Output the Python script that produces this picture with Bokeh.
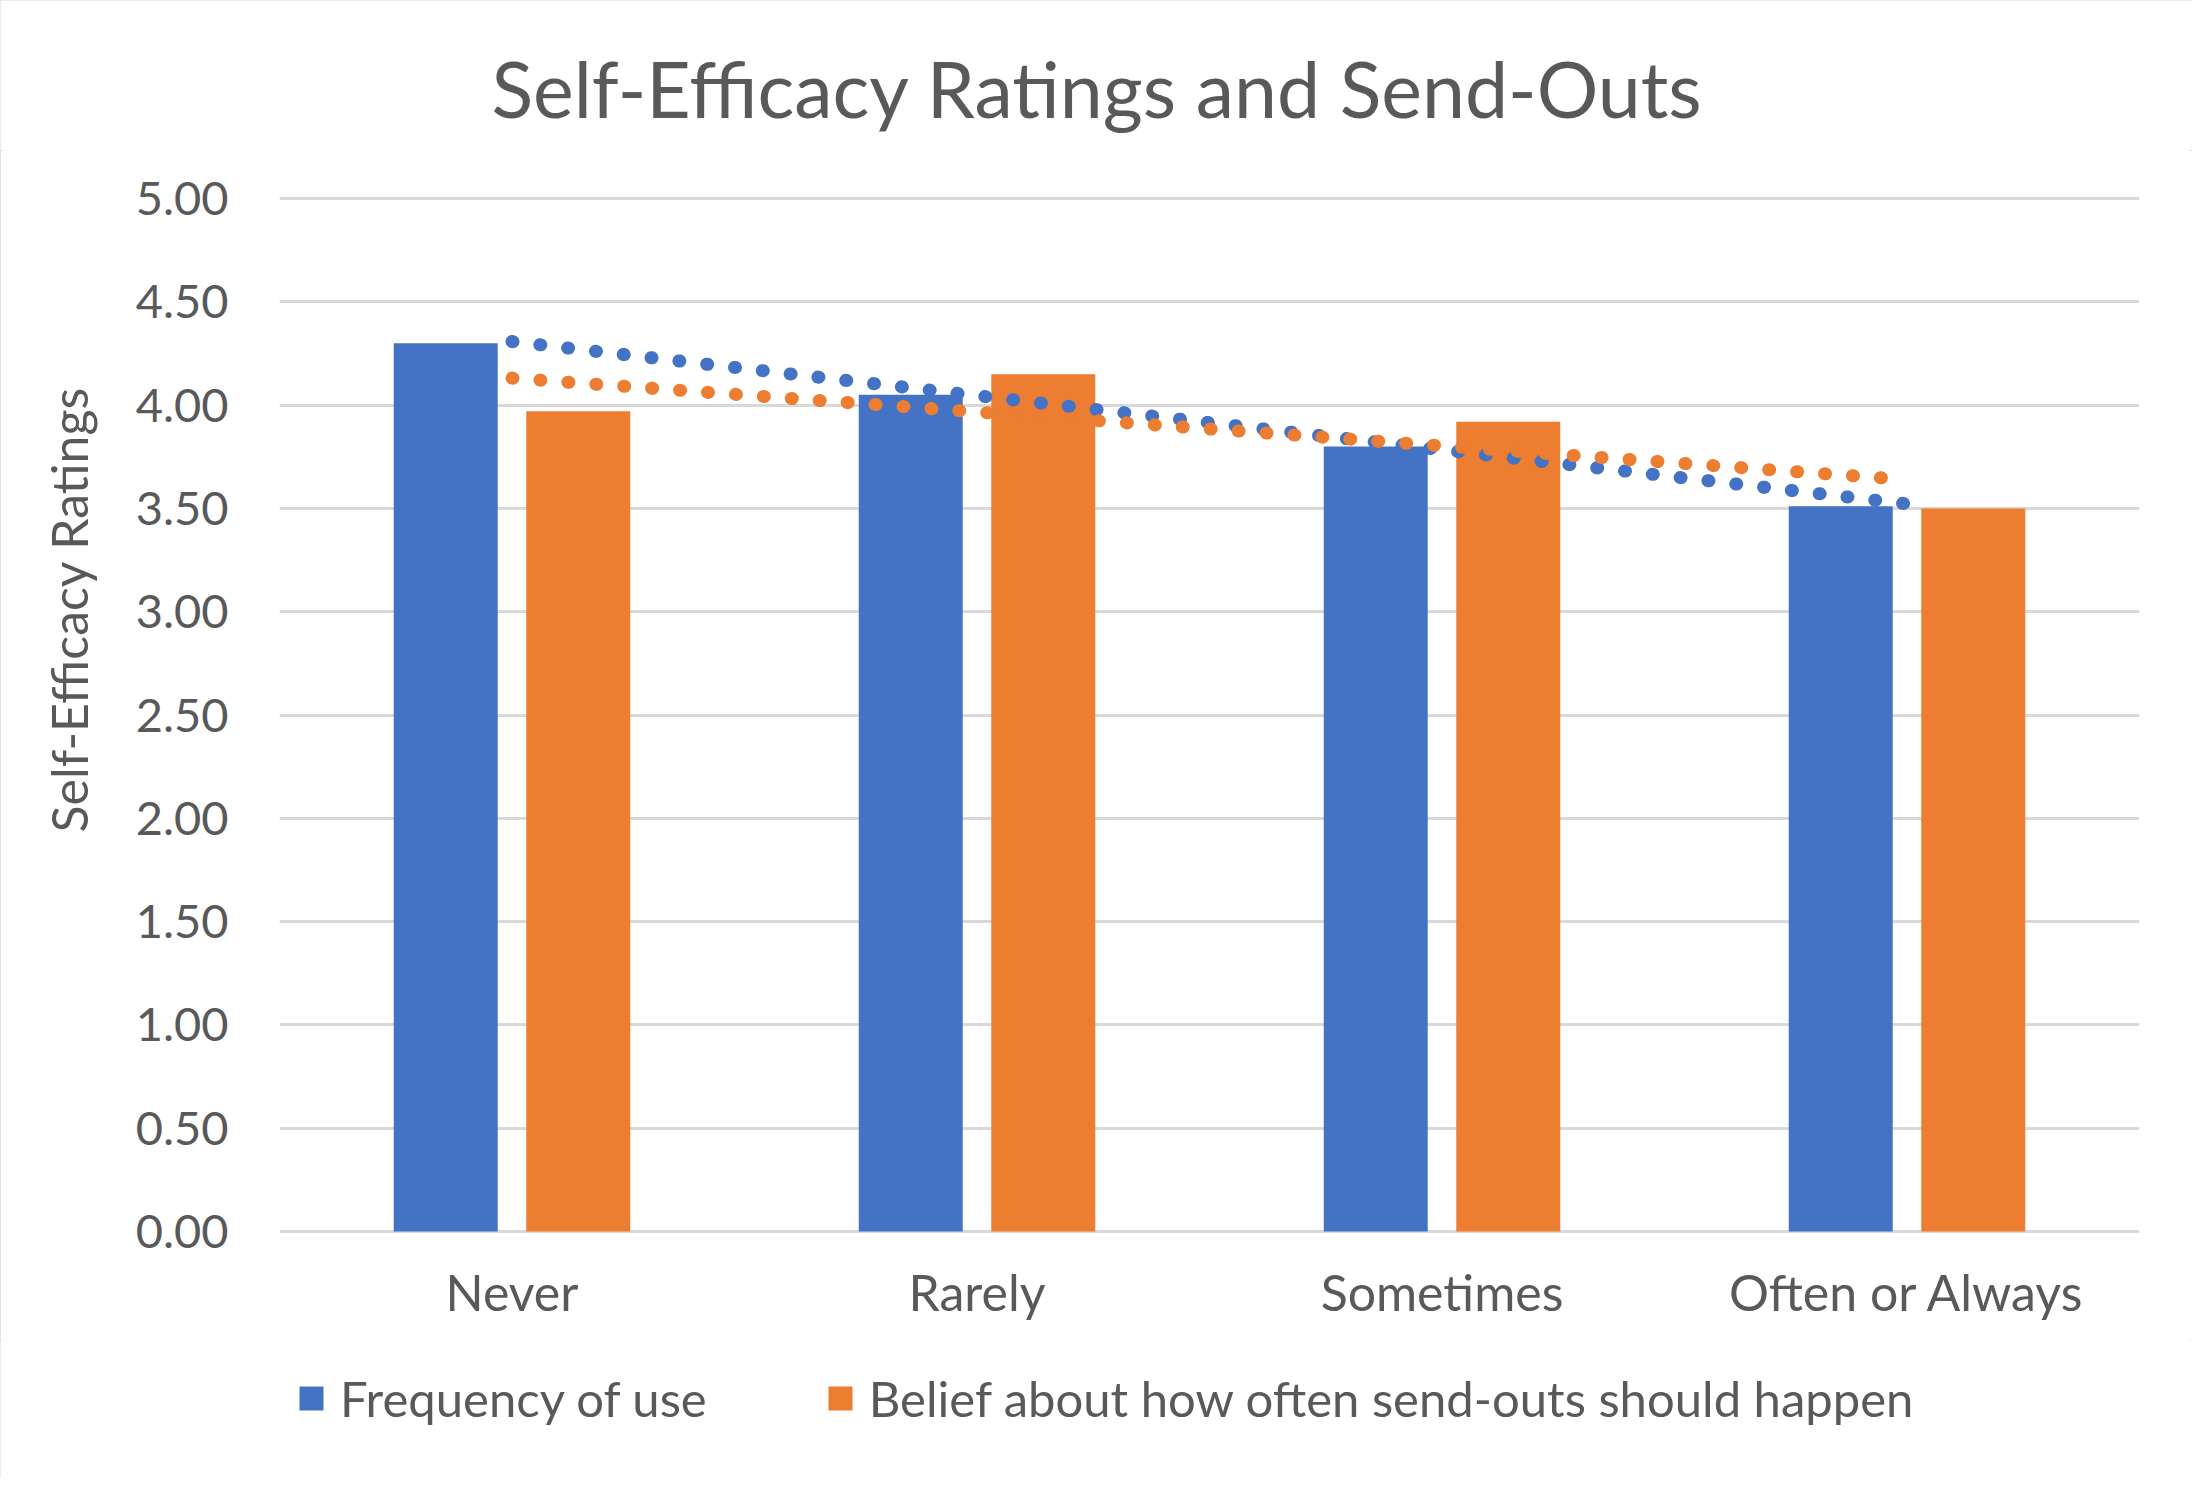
import numpy as np
from bokeh.plotting import figure
from bokeh.layouts import column, row
from bokeh.core.properties import value
from bokeh.models import (ColumnDataSource, FactorRange, Range1d, Legend, Title,
                          LegendItem, FixedTicker, NumeralTickFormatter)
from bokeh.transform import dodge
from bokeh.embed import file_html
from bokeh.resources import INLINE

# ---- data ----
categories = ["Never", "Rarely", "Sometimes", "Often or Always"]
frequency_of_use = [4.30, 4.05, 3.80, 3.51]
belief_send_outs = [3.97, 4.15, 3.92, 3.50]
y_ticks = [0.0, 0.5, 1.0, 1.5, 2.0, 2.5, 3.0, 3.5, 4.0, 4.5, 5.0]
series_names = ["Frequency of use", "Belief about how often send-outs should happen"]
title_text = "Self-Efficacy Ratings and Send-Outs"
y_label_text = "Self-Efficacy Ratings"

BLUE = "#4472C4"
ORANGE = "#ED7D31"
TEXT = "#595959"
GRID = "#D9D9D9"
FONT = "Lato"

W = 2192
H_TOP = 150
H_MAIN = 1190
H_LEG = 138

# Excel-style linear trendline over category index 1..n
idx = np.arange(1, len(categories) + 1)


def trend_ends(vals):
    m, b = np.polyfit(idx, np.asarray(vals, dtype=float), 1)
    return [m * idx[0] + b, m * idx[-1] + b]


def strip(height, y_flip=False):
    f = figure(width=W, height=height, output_backend="svg", toolbar_location=None,
               x_range=Range1d(0, W),
               y_range=Range1d(height, 0) if y_flip else Range1d(0, 1),
               x_axis_location=None, y_axis_location=None,
               min_border_left=0, min_border_right=0, min_border_top=0,
               min_border_bottom=0, border_fill_color="white",
               background_fill_color="white")
    f.title = None
    f.outline_line_color = None
    f.grid.visible = False
    return f


# ---- title strip ----
tf = strip(H_TOP, y_flip=True)
tf.text(x=[W / 2 + 1], y=[87], text=[title_text], text_align="center",
        text_baseline="alphabetic", text_font=value(FONT), text_font_size="77px",
        text_color=TEXT)

# ---- main chart ----
src = ColumnDataSource(dict(cat=categories, freq=frequency_of_use, belief=belief_send_outs))

p = figure(x_range=FactorRange(*categories), y_range=Range1d(-0.01, 5.01),
           width=W, height=H_MAIN, output_backend="svg", toolbar_location=None,
           min_border_left=279, min_border_right=53, min_border_top=196 - H_TOP,
           min_border_bottom=107,
           border_fill_color="white", background_fill_color="white")
p.x_range.range_padding = 0
p.title.visible = False

r_blue = p.vbar(x=dodge("cat", -0.1425, range=p.x_range), top="freq", width=0.2236,
                source=src, fill_color=BLUE, line_color=None)
r_orange = p.vbar(x=dodge("cat", 0.1425, range=p.x_range), top="belief", width=0.2236,
                  source=src, fill_color=ORANGE, line_color=None)

p.line(x=[categories[0], categories[-1]], y=trend_ends(frequency_of_use),
       line_color=BLUE, line_width=13, line_dash="1 27", line_cap="round")
p.line(x=[categories[0], categories[-1]], y=trend_ends(belief_send_outs),
       line_color=ORANGE, line_width=13, line_dash="1 27", line_cap="round")

# axes
p.outline_line_color = None
p.xgrid.grid_line_color = None
p.ygrid.ticker = FixedTicker(ticks=y_ticks)
p.ygrid.grid_line_color = GRID
p.ygrid.grid_line_width = 3

p.yaxis.ticker = FixedTicker(ticks=y_ticks)
p.yaxis.formatter = NumeralTickFormatter(format="0.00")
for ax in (p.xaxis[0], p.yaxis[0]):
    ax.axis_line_color = None
    ax.major_tick_line_color = None
    ax.minor_tick_line_color = None
    ax.major_label_text_font = FONT
    ax.major_label_text_color = TEXT
p.xaxis.major_label_text_font_size = "50px"
p.yaxis.major_label_text_font_size = "47px"
p.yaxis.major_label_standoff = 45
p.xaxis.major_label_standoff = 22

# y axis title, placed like the original (above the frame centre)
ytitle = Title(text=y_label_text, align="left", offset=401, standoff=68,
               text_font=FONT, text_font_size="50px", text_font_style="normal",
               text_color=TEXT)
p.add_layout(ytitle, "left")

# ---- legend strip ----
lf = strip(H_LEG)
lf.x_range = Range1d(0, 1)
# swatch renderers (placed outside the visible range; only their legend glyphs show)
lb = lf.vbar(x=[-10], top=[-10], width=0.1, fill_color=BLUE, line_color=None)
lo = lf.vbar(x=[-10], top=[-10], width=0.1, fill_color=ORANGE, line_color=None)

legend = Legend(items=[LegendItem(label=series_names[0], renderers=[lb]),
                       LegendItem(label=series_names[1], renderers=[lo])],
                orientation="horizontal", location=(296, 51), padding=0, margin=0,
                spacing=118, label_standoff=14, glyph_width=30, glyph_height=30,
                border_line_color=None, background_fill_alpha=0,
                label_text_font=FONT, label_text_font_size="49px",
                label_text_color=TEXT)
lf.add_layout(legend)

layout = column(row(tf, spacing=0), p, row(lf, spacing=0), spacing=0,
                width=W, height=H_TOP + H_MAIN + H_LEG)
layout.styles = {"outline": "3px solid #D9D9D9", "outline-offset": "-3px"}

open("out.html", "w").write(file_html(layout, INLINE))
